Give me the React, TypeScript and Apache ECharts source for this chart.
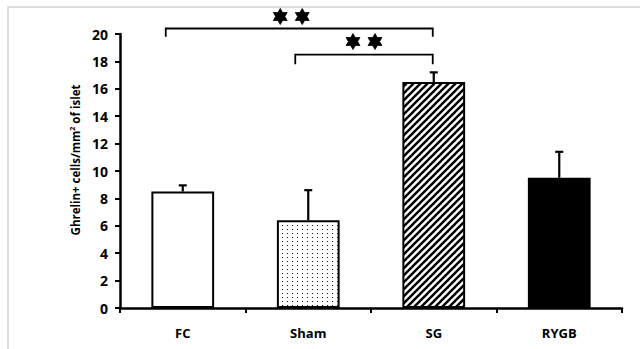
import React, { useEffect, useRef } from "react";
import * as echarts from "echarts";

const categories = ["FC", "Sham", "SG", "RYGB"];
const means = [8.5, 6.4, 16.5, 9.5];
const errors = [0.45, 2.2, 0.7, 1.9];
const yTicks = { min: 0, max: 20, interval: 2 };
const yTitle = "Ghrelin+ cells/mm{sup|2} of islet";
// [fromIndex, toIndex, bracketY, dropY]
const brackets = [
  [0, 2, 20.4, 19.8],
  [1, 2, 18.5, 17.8],
];

function makeDots(): HTMLCanvasElement {
  const c = document.createElement("canvas");
  c.width = 5;
  c.height = 4;
  const ctx = c.getContext("2d")!;
  ctx.fillStyle = "#ffffff";
  ctx.fillRect(0, 0, 5, 4);
  ctx.fillStyle = "#1a1a1a";
  ctx.fillRect(2, 1, 1, 1);
  return c;
}

function makeStripes(): HTMLCanvasElement {
  const s = 7;
  const c = document.createElement("canvas");
  c.width = s;
  c.height = s;
  const ctx = c.getContext("2d")!;
  ctx.fillStyle = "#ffffff";
  ctx.fillRect(0, 0, s, s);
  ctx.strokeStyle = "#000000";
  ctx.lineWidth = 2.4;
  for (const o of [-s, 0, s]) {
    ctx.beginPath();
    ctx.moveTo(o - 1, s + 1);
    ctx.lineTo(o + s + 1, -1);
    ctx.stroke();
  }
  return c;
}

function hexagram(cx: number, cy: number, R: number): number[][] {
  const r = R / Math.sqrt(3);
  const pts: number[][] = [];
  for (let i = 0; i < 12; i++) {
    const a = (-90 + i * 30) * (Math.PI / 180);
    const rad = i % 2 === 0 ? R : r;
    pts.push([cx + rad * Math.cos(a), cy + rad * Math.sin(a)]);
  }
  return pts;
}

export default function App() {
  const ref = useRef<HTMLDivElement>(null);
  useEffect(() => {
    document.body.style.margin = "0";
    const chart = echarts.init(ref.current!, undefined, { renderer: "svg" });
    const dots = makeDots();
    const stripes = makeStripes();
    const fills: any[] = [
      "#ffffff",
      { image: dots, repeat: "repeat", imageWidth: 5, imageHeight: 4 },
      { image: stripes, repeat: "repeat", imageWidth: 7, imageHeight: 7 },
      "#000000",
    ];
    const font = "'Open Sans', sans-serif";
    chart.setOption({
      animation: false,
      backgroundColor: "#ffffff",
      graphic: [
        {
          type: "rect",
          shape: { x: 8, y: 7, width: 700, height: 400 },
          style: { fill: "none", stroke: "#d2d2d2", lineWidth: 1.5 },
          silent: true,
        },
        {
          type: "text",
          x: 75,
          y: 160,
          rotation: Math.PI / 2,
          silent: true,
          style: {
            text: yTitle,
            fill: "#000",
            font: "bold 11.5px 'Open Sans', sans-serif",
            align: "center",
            verticalAlign: "middle",
            rich: {
              sup: {
                fontSize: 7,
                fontWeight: "bold",
                fontFamily: font,
                fill: "#000",
                verticalAlign: "top",
                padding: [0, 0, 5, 0],
              },
            },
          },
        },
      ],
      grid: { left: 120, right: 18, top: 34, bottom: 41, containLabel: false },
      xAxis: {
        type: "category",
        data: categories,
        axisLine: { lineStyle: { color: "#000", width: 2.5 } },
        axisTick: { show: true, length: 5, lineStyle: { color: "#000", width: 2 } },
        axisLabel: {
          color: "#000",
          fontWeight: "bold",
          fontSize: 13,
          fontFamily: font,
          margin: 18,
        },
      },
      yAxis: {
        type: "value",
        min: yTicks.min,
        max: yTicks.max,
        interval: yTicks.interval,
        splitLine: { show: false },
        axisLine: { show: true, lineStyle: { color: "#000", width: 2.5 } },
        axisTick: { show: true, length: 5, lineStyle: { color: "#000", width: 2 } },
        axisLabel: {
          color: "#000",
          fontWeight: "bold",
          fontSize: 14,
          fontFamily: font,
          margin: 12,
        },
      },
      series: [
        {
          type: "bar",
          barWidth: "50%",
          data: means.map((v, i) => ({
            value: v,
            itemStyle: { color: fills[i], borderColor: "#000", borderWidth: 2 },
          })),
          z: 2,
        },
        {
          type: "custom",
          z: 3,
          data: means.map((v, i) => [i, v, v + errors[i]]),
          renderItem: (params: any, api: any) => {
            const x = api.value(0);
            const p0 = api.coord([x, api.value(1)]);
            const p1 = api.coord([x, api.value(2)]);
            const style = { stroke: "#000", lineWidth: 2.2 };
            return {
              type: "group",
              children: [
                { type: "line", shape: { x1: p0[0], y1: p0[1], x2: p1[0], y2: p1[1] }, style },
                { type: "line", shape: { x1: p1[0] - 4, y1: p1[1], x2: p1[0] + 4, y2: p1[1] }, style },
              ],
            };
          },
        },
        {
          type: "custom",
          z: 4,
          clip: false,
          data: brackets,
          renderItem: (params: any, api: any) => {
            const a = api.coord([api.value(0), api.value(2)]);
            const b = api.coord([api.value(1), api.value(2)]);
            const dropY = api.coord([api.value(0), api.value(3)])[1];
            const leftShift = params.dataIndex === 0 ? 17 : 13;
            const xl = a[0] - leftShift;
            const xr = b[0] - 1;
            const y = a[1];
            const mid = (xl + xr) / 2 + (params.dataIndex === 0 ? -8 : 0);
            const sy = y - (params.dataIndex === 0 ? 12 : 13);
            return {
              type: "group",
              children: [
                {
                  type: "polyline",
                  shape: { points: [[xl, dropY], [xl, y], [xr, y], [xr, dropY]] },
                  style: { stroke: "#000", lineWidth: 1.8, fill: "none" },
                },
                {
                  type: "polygon",
                  shape: { points: hexagram(mid - 11, sy, 8) },
                  style: { fill: "#000", stroke: "#000", lineWidth: 0.8 },
                },
                {
                  type: "polygon",
                  shape: { points: hexagram(mid + 11, sy, 8) },
                  style: { fill: "#000", stroke: "#000", lineWidth: 0.8 },
                },
              ],
            };
          },
        },
      ],
    });
    return () => chart.dispose();
  }, []);
  return <div ref={ref} style={{ width: 640, height: 349 }} />;
}
